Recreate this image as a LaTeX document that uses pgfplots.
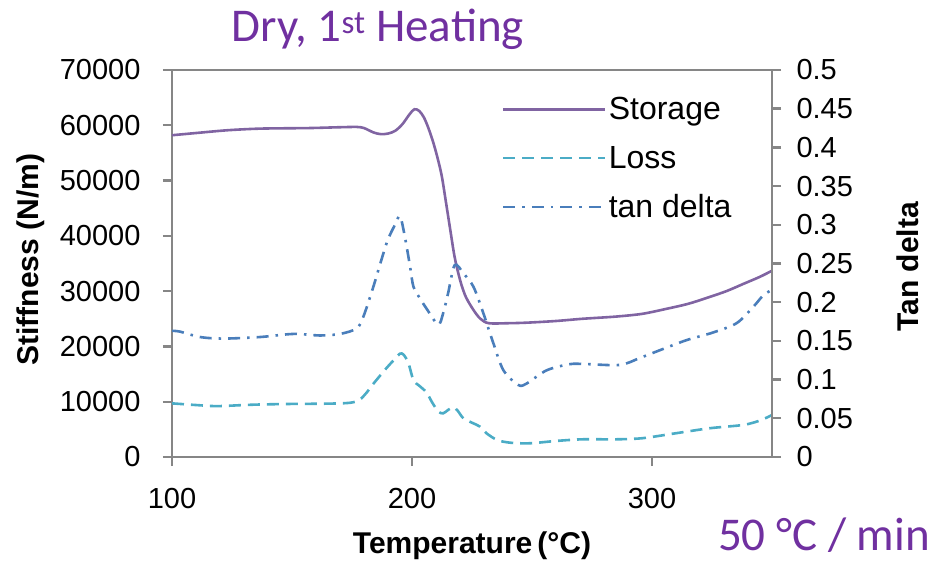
\documentclass[border=0pt]{standalone}
\usepackage{pgfplots}
\usepackage{pgfplotstable}
\pgfplotsset{compat=1.18}
\usepackage{fontspec}
\setmainfont{Liberation Sans}
\newfontfamily\calibri{Carlito}

\definecolor{storagec}{HTML}{8064A2}
\definecolor{lossc}{HTML}{4BACC6}
\definecolor{tandc}{HTML}{4A7EBB}
\definecolor{titlec}{HTML}{7030A0}
\definecolor{axisc}{HTML}{868686}

\newcommand{\tickfont}{\fontsize{29bp}{34bp}\selectfont}
\newcommand{\labfont}{\fontsize{30bp}{36bp}\selectfont\bfseries}
\newcommand{\legfont}{\fontsize{32bp}{38bp}\selectfont}

% Storage stiffness (N/m) vs temperature (deg C)
\pgfplotstableread{
T     S
100   58200
110   58600
123   59100
137   59400
157   59500
170   59650
177   59700
180   59500
184   58700
187   58400
190   58500
193   59000
196   60200
199   62000
201   62900
203   62600
205   61400
207   59300
209   56700
211   53500
212.5 50600
214   46500
215.8 41500
217.5 36800
218.7 34300
220.5 31300
222.5 28900
225.6 26600
228.5 25000
232   24200
240   24200
248   24300
260   24600
271   25000
285   25400
296   25900
306   26800
315   27700
323   28800
331   30000
338   31300
345   32600
350   33700
}\storagetab

% Loss stiffness (N/m)
\pgfplotstableread{
T     L
100   9700
110   9400
118.6 9200
130   9400
137   9500
150   9600
165   9650
174   9800
178   10300
181   11600
184   13300
189.4 16100
193   17800
195   18700
196.5 18500
198.5 17000
200.6 13900
203   12900
206   11700
208.5 9800
211   8200
213   7900
215   8500
217.2 9000
219   8400
221.4 7000
225   6200
228.3 5500
231   4300
235.3 3100
239   2700
243.6 2500
250   2500
260   2900
271   3200
285   3200
296   3400
310   4300
324   5200
338   5800
345   6600
350   7600
}\losstab

% Loss factor tan delta
\pgfplotstableread{
T     D
100   0.163
103.3 0.162
111.7 0.155
121.4 0.153
136.7 0.155
150.6 0.159
161.7 0.157
170   0.159
176.9 0.166
179.7 0.181
183.9 0.220
189.4 0.276
192.9 0.300
195   0.311
197   0.285
199.2 0.246
200.6 0.220
203.3 0.205
206   0.192
210.9 0.171
213   0.186
215   0.211
217.8 0.248
221.5 0.237
225.6 0.220
229.7 0.186
233.9 0.147
238.1 0.112
244.3 0.093
247.8 0.095
256.1 0.112
265.8 0.120
272.8 0.120
286.7 0.119
295   0.128
303.3 0.138
314.4 0.151
325.6 0.161
335.3 0.173
342.2 0.194
346.4 0.209
350   0.216
}\tandtab

\pgfplotsset{
  common/.style={
    scale only axis, width=600bp, height=387bp,
    xmin=100, xmax=350,
    axis line style={axisc, line width=2.6bp},
    every tick/.style={axisc, line width=2.4bp},
    tick align=outside, major tick length=9bp,
    /pgf/number format/assume math mode=true,
    tick label style={font=\tickfont},
  },
  storagestyle/.style={storagec, line width=2.6bp, smooth},
  lossstyle/.style={lossc, line width=2.6bp, smooth, dash pattern=on 12bp off 7bp},
  tandstyle/.style={tandc, line width=2.6bp, smooth, dash pattern=on 12bp off 7bp on 2.5bp off 7bp},
}

\begin{document}
\begin{tikzpicture}
\useasboundingbox (-172bp,-104bp) rectangle (765bp,457bp);
\begin{axis}[
  common,
  ymin=0, ymax=70000,
  xtick={100,200,300}, ytick={0,10000,...,70000},
  xtick pos=bottom, ytick pos=left,
  scaled y ticks=false,
  yticklabel style={/pgf/number format/set thousands separator={}, /pgf/number format/fixed, xshift=-19bp},
  xticklabel style={yshift=-19bp},
  xlabel={Temperature\,(°C)},
  xlabel style={font=\labfont, at={(axis description cs:0.5,0)}, anchor=base, yshift=-96bp},
  ylabel={Stiffness (N/m)},
  ylabel style={font=\labfont, at={(axis description cs:-0.223,0.51)}, anchor=base, rotate=0},
  legend cell align=left,
  legend style={draw=none, fill=none, font=\legfont, at={(rel axis cs:0.545,0.94)}, anchor=north west, row sep=21bp},
  legend image code/.code={\draw[#1] (0bp,0bp) -- (102bp,0bp);},
]
\addplot[storagestyle] table[x=T, y=S] {\storagetab};
\addlegendentry{Storage}
\addplot[lossstyle] table[x=T, y=L] {\losstab};
\addlegendentry{Loss}
\addlegendimage{tandstyle}
\addlegendentry{tan delta}
\end{axis}
\begin{axis}[
  common,
  ymin=0, ymax=0.5,
  ytick={0,0.05,...,0.5},
  axis x line=none, axis y line*=right,
  yticklabel style={/pgf/number format/fixed, /pgf/number format/precision=2, xshift=12bp},
  ylabel={Tan delta},
  ylabel style={font=\labfont, at={(axis description cs:1.244,0.491)}, anchor=base, rotate=0},
]
\addplot[tandstyle] table[x=T, y=D] {\tandtab};
\end{axis}
\node[anchor=base, text=titlec, font=\calibri\fontsize{47bp}{56bp}\selectfont] at (206bp,415bp) {Dry, 1\textsuperscript{st} Heating};
\node[anchor=base east, text=titlec, font=\calibri\fontsize{47bp}{56bp}\selectfont, inner sep=0pt, text depth=0pt] at (758bp,-93bp) {50 °C / min};
\end{tikzpicture}
\end{document}
